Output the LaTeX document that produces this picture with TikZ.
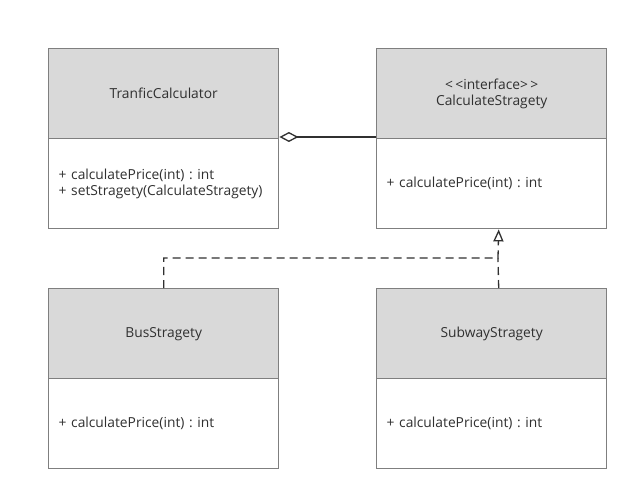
\documentclass[tikz,border=0pt]{standalone}
\usepackage{fontspec}
\setmainfont{Open Sans}
\frenchspacing
\usetikzlibrary{arrows.meta}
\definecolor{headgray}{HTML}{D9D9D9}
\definecolor{framegray}{HTML}{7F7F7F}
\definecolor{linedark}{HTML}{303030}

\begin{document}
\begin{tikzpicture}
    [ x=1pt, y=-1pt
    , classfont/.style={font=\fontsize{13.8}{16}\selectfont, text=linedark}
    , head/.style={draw=framegray, fill=headgray, line width=1.4pt, classfont,
        minimum width=230pt, minimum height=90pt, inner sep=0pt,
        align=center, anchor=north west}
    , body/.style={draw=framegray, fill=white, line width=1.4pt, classfont,
        minimum width=230pt, minimum height=90pt, inner xsep=10pt, inner ysep=0pt,
        text width=210pt, align=left, anchor=north west}
    , link/.style={draw=linedark, line width=1.3pt}
    ]
\useasboundingbox (0,0) rectangle (638,500);

\node[head] (tranficHead) at (48,48) {TranficCalculator};
\node[body] (tranficBody) at (48,138) {+ calculatePrice(int) : int\\+ setStragety(CalculateStragety)};

\node[head] (stragetyHead) at (376,48) {<\,<interface>\,>\\CalculateStragety};
\node[body] (stragetyBody) at (376,138) {+ calculatePrice(int) : int};

\node[head] (busHead) at (48,288) {BusStragety};
\node[body] (busBody) at (48,378) {+ calculatePrice(int) : int};

\node[head] (subwayHead) at (376,288) {SubwayStragety};
\node[body] (subwayBody) at (376,378) {+ calculatePrice(int) : int};

% aggregation
\draw[link, {Diamond[open, length=19pt, width=10pt]}-]
    ([yshift=1pt]tranficBody.north east) -- ([yshift=1pt]stragetyBody.north west);

% realization
\coordinate (joint) at (498,258);
\draw[link, dash pattern=on 8pt off 5pt, -{Triangle[open, length=12pt, width=10pt]}]
    (busHead.north) |- (joint) -- ([xshift=7pt]stragetyBody.south);
\draw[link, dash pattern=on 8pt off 5pt]
    ([xshift=7pt]subwayHead.north) -- (joint);

\end{tikzpicture}
\end{document}
